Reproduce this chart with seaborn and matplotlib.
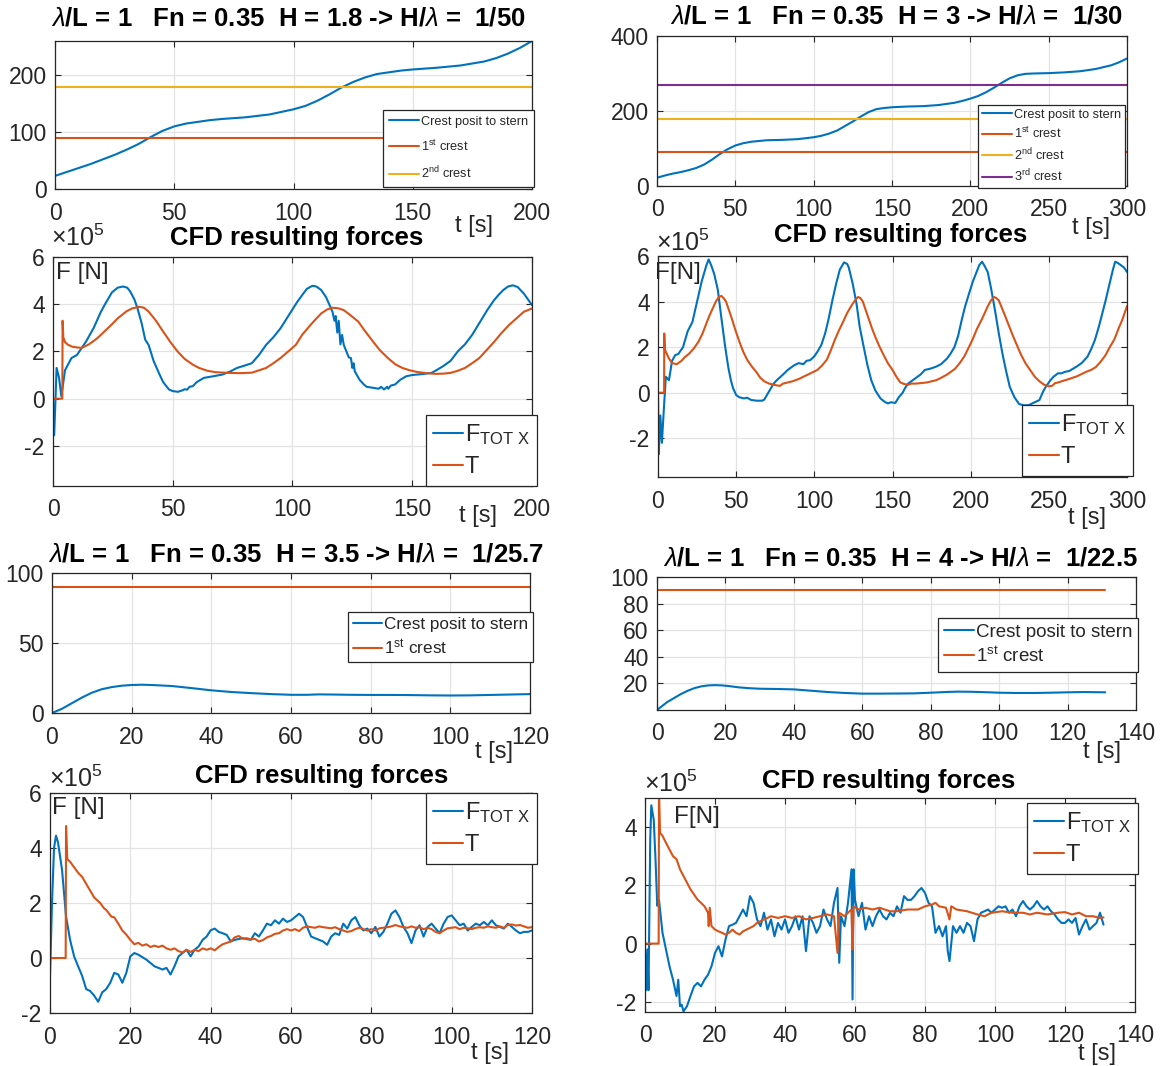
import matplotlib
matplotlib.use("Agg")
import matplotlib.pyplot as plt
import seaborn as sns

# ---------------------------------------------------------------------------
# Crest position relative to the stern [m] versus time [s]
# ---------------------------------------------------------------------------
t_crest_h18 = [0, 5, 10, 15, 20, 25, 30, 35, 40, 45, 50, 55, 60, 65, 70, 80,
               90, 100, 105, 110, 115, 120, 125, 130, 135, 140, 145, 150, 160,
               170, 180, 185, 190, 195, 200]
crest_h18 = [23, 30, 37, 44, 52, 60, 69, 79, 91, 102, 110, 115, 118, 121, 123,
             126, 131, 140, 146, 155, 166, 178, 188, 196, 202, 205, 208, 210,
             213, 217, 224, 230, 238, 248, 260]
crest_levels_h18 = [90, 180]

t_crest_h30 = [0, 5, 10, 15, 20, 25, 30, 35, 40, 45, 50, 55, 60, 70, 80, 90,
               100, 105, 110, 115, 120, 125, 130, 135, 140, 145, 150, 160, 170,
               180, 190, 195, 200, 205, 210, 215, 220, 225, 230, 235, 240, 250,
               260, 270, 280, 290, 295, 300]
crest_h30 = [22, 28, 33, 37, 42, 48, 57, 70, 85, 98, 108, 114, 118, 122, 123,
             125, 130, 134, 140, 148, 160, 172, 185, 197, 205, 208, 210, 212,
             213, 216, 222, 227, 233, 240, 250, 262, 275, 287, 295, 299, 300,
             301, 303, 306, 312, 322, 330, 340]
crest_levels_h30 = [90, 180, 270]

t_crest_h35 = [0, 2.5, 5, 7.5, 10, 12.5, 15, 17.5, 20, 22.5, 25, 30, 35, 40, 45,
               50, 55, 60, 64, 67, 70, 75, 80, 85, 90, 95, 100, 105, 110, 115,
               120]
crest_h35 = [0, 3, 7, 11, 14.5, 17, 18.5, 19.5, 20, 20.2, 20, 19.3, 17.8, 16.2,
             15, 14.2, 13.5, 13, 13, 13.3, 13.2, 13, 12.9, 12.9, 12.8, 12.6,
             12.5, 12.6, 12.9, 13.2, 13.5]
crest_levels_h35 = [90]

t_crest_h40 = [0, 3, 5, 7, 9, 11, 13, 15, 17, 19, 21, 24, 27, 30, 35, 40, 45,
               50, 55, 60, 65, 70, 75, 80, 85, 88, 92, 97, 100, 105, 110, 115,
               120, 125, 131]
crest_h40 = [0, 6, 9, 12, 14.5, 16.5, 17.8, 18.5, 18.7, 18.5, 18, 17, 16.4, 16,
             15.8, 15.5, 14.5, 13.5, 12.8, 12.3, 12.3, 12.4, 12.5, 13, 13.6,
             13.8, 13.7, 13.3, 13, 12.8, 12.8, 13, 13.3, 13.5, 13.3]
crest_levels_h40 = [90]

# ---------------------------------------------------------------------------
# CFD forces, (time [s], force [1e5 N]) pairs
# ---------------------------------------------------------------------------
ftot_h18 = [(0, 0), (0.5, -1.55), (1.5, 1.3), (2.5, 0.9), (3.5, 0.1), (5, 1.2),
            (7.7, 1.72), (10, 1.85), (13.8, 2.42), (17, 3.0), (20, 3.68),
            (22, 4.05), (24.6, 4.5), (27, 4.7), (29.2, 4.75), (31, 4.7),
            (32.3, 4.53), (34, 4.2), (35.3, 3.82), (37, 3.2), (38.5, 2.5),
            (39.9, 2.28), (42, 1.6), (44.5, 1.02), (46, 0.7), (48.4, 0.39),
            (50, 0.32), (52.2, 0.29), (54, 0.35), (55, 0.4), (56, 0.38),
            (57, 0.5), (58.4, 0.53), (60, 0.7), (63, 0.88), (67, 0.95),
            (70.7, 1.02), (74, 1.15), (76.8, 1.3), (80, 1.4), (83, 1.5),
            (86, 1.85), (89, 2.28), (92, 2.6), (95, 2.98), (97, 3.3),
            (99.8, 3.75), (102, 4.1), (104.5, 4.45), (106, 4.65), (108.3, 4.78),
            (110, 4.75), (112, 4.6), (114, 4.3), (116.7, 3.68), (117.5, 3.3),
            (118, 3.5), (118.7, 2.8), (119.3, 3.3), (120, 2.3), (120.7, 2.7),
            (121.4, 2.28), (122.5, 2.0), (123.5, 1.75), (124.4, 1.72),
            (125, 1.3), (125.5, 1.5), (126, 1.16), (128, 0.8), (129.8, 0.6),
            (131, 0.5), (133.6, 0.46), (136, 0.42), (137, 0.5), (138.2, 0.39),
            (139.5, 0.5), (140, 0.42), (141, 0.55), (142.8, 0.6), (145, 0.8),
            (147.5, 0.95), (150, 1.0), (152, 1.02), (155, 1.05), (158, 1.09),
            (160, 1.2), (162.8, 1.37), (166, 1.6), (169, 2.0), (172, 2.3),
            (175, 2.7), (178, 3.2), (181.3, 3.75), (184, 4.15), (185.9, 4.38),
            (188, 4.6), (190, 4.75), (192, 4.8), (194, 4.73), (196.6, 4.45),
            (198, 4.25), (200, 3.96)]
thrust_h18 = [(0, 0), (3.9, 0), (4, 3.3), (4.3, 2.6), (5, 2.4), (6, 2.3),
              (8, 2.2), (10, 2.17), (12, 2.15), (15, 2.3), (18.4, 2.55),
              (21, 2.8), (24.6, 3.15), (27, 3.4), (30.7, 3.7), (33, 3.82),
              (36, 3.89), (38, 3.85), (40, 3.68), (43, 3.3), (46, 2.84),
              (49, 2.4), (52, 2.0), (55, 1.68), (58.4, 1.44), (61, 1.3),
              (64.5, 1.18), (68, 1.12), (73.7, 1.09), (78, 1.08), (83, 1.1),
              (86, 1.2), (89, 1.3), (92, 1.5), (95, 1.72), (98, 1.98),
              (101.4, 2.28), (104, 2.7), (107.5, 3.12), (110, 3.4), (112, 3.61),
              (114.5, 3.78), (116.7, 3.85), (119, 3.83), (121.4, 3.75),
              (124, 3.55), (127.5, 3.26), (130, 2.9), (133.6, 2.42),
              (136.5, 2.05), (139.8, 1.72), (143, 1.45), (145.9, 1.3),
              (149, 1.2), (152, 1.13), (156, 1.08), (159.6, 1.05), (163, 1.06),
              (165.9, 1.09), (169, 1.18), (172, 1.3), (175, 1.5), (178, 1.72),
              (181, 2.05), (184.3, 2.42), (187, 2.75), (190.4, 3.12),
              (193.5, 3.4), (196.6, 3.68), (200, 3.82)]

ftot_h30 = [(0, -0.1), (0.5, -2.7), (1.5, -1.0), (2.5, -2.2), (3.5, -1.0),
            (5, 0.7), (7, 0.55), (9, 1.4), (11, 1.65), (13, 1.7), (16, 2.0),
            (19, 2.7), (22, 3.1), (25, 4.0), (28, 4.9), (31, 5.6), (32.4, 5.85),
            (34, 5.6), (36, 5.2), (38.3, 4.5), (40.5, 3.3), (43, 2.0),
            (45, 1.1), (46.6, 0.55), (48, 0.2), (50, -0.1), (52, -0.2),
            (55, -0.25), (57, -0.22), (59.6, -0.32), (63, -0.35),
            (66.7, -0.35), (68, -0.3), (71.4, 0.1), (74, 0.4), (76, 0.55),
            (80, 0.8), (83, 1.0), (87, 1.2), (90, 1.3), (93, 1.25), (95, 1.4),
            (97.4, 1.43), (100, 1.6), (102, 1.8), (104.5, 2.1), (106.9, 2.6),
            (109, 3.2), (111.6, 4.07), (114, 4.8), (116.3, 5.4), (119, 5.72),
            (121, 5.65), (122, 5.5), (124.5, 4.8), (127, 3.9), (129, 2.9),
            (131.6, 2.0), (134, 1.2), (136.4, 0.55), (139, 0.1),
            (142.3, -0.25), (145, -0.4), (147, -0.47), (149, -0.42),
            (151.8, -0.45), (154, -0.2), (156.5, 0.0), (158, 0.2), (160, 0.4),
            (163, 0.55), (166, 0.7), (168, 0.8), (170.7, 1.0), (174, 1.05),
            (177.8, 1.14), (181, 1.25), (184.9, 1.5), (187, 1.7), (189.6, 2.0),
            (192, 2.5), (194.3, 3.2), (196.5, 3.8), (199, 4.36), (201.5, 4.9),
            (203.8, 5.3), (205.5, 5.6), (207.3, 5.75), (209, 5.55),
            (210.9, 5.3), (213, 4.6), (215.6, 3.6), (218, 2.6), (220.3, 1.72),
            (222.5, 1.0), (225, 0.26), (228, -0.2), (231, -0.5), (234, -0.55),
            (237, -0.55), (240, -0.45), (244, -0.32), (246, 0.0), (247.5, 0.2),
            (249, 0.35), (251, 0.55), (253, 0.7), (255.8, 0.85), (258, 0.85),
            (260.5, 0.92), (263, 0.95), (267.6, 1.14), (271, 1.3),
            (274.7, 1.58), (277, 1.9), (279.4, 2.3), (282, 2.9), (284.2, 3.48),
            (286.5, 4.1), (288.9, 4.8), (291, 5.4), (292.4, 5.75), (294, 5.7),
            (296, 5.6), (298, 5.5), (300, 5.3)]
thrust_h30 = [(0, 0), (3.9, 0), (4, 2.6), (4.4, 1.9), (5, 1.8), (7, 1.5),
              (9, 1.3), (12, 1.25), (15, 1.4), (17, 1.55), (20, 1.72),
              (23, 1.95), (26, 2.25), (28.5, 2.6), (31, 3.05), (33, 3.4),
              (35, 3.7), (37, 4.0), (39, 4.2), (40.5, 4.25), (42, 4.15),
              (43.5, 4.0), (45, 3.7), (47, 3.3), (49.5, 2.75), (52, 2.25),
              (54.5, 1.8), (57, 1.45), (60, 1.15), (63, 0.9), (65.5, 0.65),
              (68, 0.5), (71, 0.4), (74, 0.35), (76, 0.32), (78, 0.3),
              (80, 0.4), (83, 0.45), (86, 0.5), (90, 0.6), (93, 0.7), (96, 0.8),
              (99, 0.9), (102, 1.0), (105, 1.2), (108, 1.45), (110.5, 1.85),
              (113, 2.3), (115.5, 2.7), (118, 3.05), (121, 3.5), (124, 3.85),
              (126.5, 4.1), (128, 4.2), (129.5, 4.15), (131, 4.0), (133, 3.6),
              (135, 3.2), (137, 2.8), (139, 2.45), (141.5, 2.05), (144, 1.7),
              (147, 1.3), (150, 1.0), (152.5, 0.7), (155, 0.45), (157.5, 0.38),
              (160, 0.35), (162, 0.4), (165, 0.4), (168, 0.42), (172, 0.45),
              (175, 0.5), (178, 0.55), (181, 0.65), (185, 0.8), (188, 0.95),
              (190, 1.05), (193, 1.3), (196, 1.6), (198.5, 1.95), (201, 2.3),
              (204, 2.8), (207, 3.2), (209, 3.5), (211, 3.8), (213, 4.05),
              (215, 4.2), (216.5, 4.15), (218, 4.05), (219.5, 3.8),
              (221, 3.55), (223, 3.2), (225, 2.85), (227, 2.5), (229.5, 2.1),
              (232, 1.7), (235, 1.3), (238, 1.0), (241, 0.7), (244, 0.5),
              (247, 0.35), (250, 0.28), (252, 0.3), (254, 0.42), (256, 0.45),
              (259, 0.52), (262, 0.58), (265, 0.65), (268, 0.72), (271, 0.82),
              (274, 0.92), (277, 1.0), (280, 1.12), (283, 1.35), (286, 1.62),
              (289, 2.0), (292, 2.35), (294.5, 2.8), (297, 3.2), (300, 3.8)]

ftot_h35 = [(0, -0.65), (0.5, 2.0), (1, 4.0), (1.5, 4.45), (2, 4.2), (3, 3.2),
            (4, 1.5), (5, 0.66), (6, 0.06), (7, -0.3), (8, -0.65), (9, -1.13),
            (10, -1.2), (11, -1.37), (12, -1.59), (13, -1.25), (14, -1.13),
            (15, -0.9), (16, -0.54), (17, -0.6), (18, -0.9), (19, -0.54),
            (20, 0.06), (21, 0.18), (22, 0.12), (24, -0.06), (26, -0.3),
            (28, -0.42), (29, -0.36), (30, -0.6), (31, -0.3), (32, 0.06),
            (33, 0.18), (34, 0.3), (35, 0.06), (36, 0.3), (37, 0.42),
            (38, 0.66), (39, 0.78), (40, 1.01), (41, 1.07), (42, 0.95),
            (43, 0.9), (44, 0.84), (45, 0.6), (46, 0.66), (48, 0.72),
            (50, 0.66), (51, 0.9), (52, 0.78), (53, 1.0), (54, 1.25),
            (55, 1.19), (56, 1.37), (57, 1.25), (58, 1.43), (59, 1.31),
            (60, 1.37), (61, 1.49), (62, 1.61), (63, 1.49), (64, 1.13),
            (65, 0.78), (66, 0.72), (67, 0.66), (68, 0.6), (69, 0.48),
            (70, 0.78), (71, 0.9), (72, 0.84), (73, 1.25), (74, 1.07),
            (75, 1.37), (76, 1.49), (77, 1.19), (78, 1.0), (79, 1.07),
            (80, 0.9), (81, 1.13), (82, 0.78), (83, 0.95), (84, 1.25),
            (85, 1.61), (86, 1.73), (87, 1.49), (88, 1.13), (89, 0.9),
            (90, 0.54), (91, 1.0), (92, 1.19), (93, 0.78), (94, 1.13),
            (95, 1.25), (96, 1.07), (97, 0.9), (98, 1.25), (99, 1.49),
            (100, 1.55), (101, 1.37), (102, 1.19), (103, 1.25), (104, 1.0),
            (105, 1.13), (106, 1.25), (107, 1.19), (108, 1.31), (109, 1.19),
            (110, 1.37), (111, 1.19), (112, 1.13), (113, 1.07), (114, 1.25),
            (115, 1.13), (116, 1.0), (117, 0.9), (118, 0.95), (119, 0.95),
            (120, 1.0)]
thrust_h35 = [(0, 0), (3.9, 0), (4, 4.8), (4.3, 3.6), (5, 3.5), (6, 3.3),
              (7, 3.1), (8, 2.95), (9, 2.7), (10, 2.45), (11, 2.2),
              (12.5, 2.0), (13.5, 1.8), (14, 1.75), (15.3, 1.5), (16, 1.48),
              (17, 1.25), (18, 1.0), (19, 0.85), (20, 0.66), (21, 0.5),
              (22, 0.55), (23, 0.45), (24, 0.5), (25, 0.4), (26, 0.45),
              (27, 0.4), (28, 0.45), (29, 0.35), (30, 0.3), (31, 0.35),
              (32, 0.25), (33, 0.2), (34, 0.3), (35, 0.22), (36, 0.3),
              (37, 0.25), (38, 0.35), (39, 0.3), (40, 0.35), (41, 0.28),
              (42, 0.4), (43, 0.5), (44, 0.55), (45, 0.6), (46, 0.75),
              (47, 0.8), (48, 0.7), (49, 0.72), (50, 0.68), (51, 0.7),
              (52, 0.6), (53, 0.65), (54, 0.75), (55, 0.8), (56, 0.88),
              (57, 0.9), (58, 1.0), (59, 1.05), (60, 1.0), (61, 1.05),
              (62, 0.98), (63, 1.1), (64, 1.15), (65, 1.12), (66, 1.1),
              (67, 1.15), (68, 1.12), (69, 1.1), (70, 1.08), (71, 1.12),
              (72, 1.05), (73, 1.0), (74, 0.95), (75, 0.98), (76, 1.05),
              (77, 1.1), (78, 1.05), (79, 1.0), (80, 1.05), (81, 1.0),
              (82, 1.08), (83, 1.1), (84, 1.12), (85, 1.15), (86, 1.2),
              (87, 1.15), (88, 1.12), (89, 1.1), (90, 1.15), (91, 1.1),
              (92, 1.12), (93, 1.05), (94, 1.1), (95, 1.05), (96, 0.95),
              (97, 0.9), (98, 1.0), (99, 1.08), (100, 1.1), (101, 1.12),
              (102, 1.05), (103, 1.1), (104, 1.08), (105, 1.05), (106, 1.1),
              (107, 1.12), (108, 1.1), (109, 1.15), (110, 1.12), (111, 1.1),
              (112, 1.15), (113, 1.1), (114, 1.2), (115, 1.22), (116, 1.18),
              (117, 1.2), (118, 1.15), (119, 1.1), (120, 1.12)]

ftot_h40 = [(0, -0.1), (0.3, -1.6), (0.7, -0.2), (1, -1.6), (1.5, 3.6),
            (1.8, 4.75), (2.5, 4.25), (3, 2.9), (3.5, 1.3), (4, 1.5),
            (5, 0.37), (6, -0.2), (7, -0.78), (8, -1.24), (9, -1.8),
            (9.5, -1.24), (10, -2.15), (10.5, -2.1), (11, -2.33), (12, -2.15),
            (13, -1.8), (14, -1.47), (15, -1.35), (16, -1.47), (17, -1.24),
            (18, -1.07), (19, -0.78), (20, -0.32), (21, -0.09), (22, -0.44),
            (23, 0.14), (24, 0.6), (25, 0.65), (26, 0.71), (27, 0.94),
            (28, 1.17), (29, 0.94), (30, 1.63), (31, 1.4), (32, 0.83),
            (33, 0.6), (34, 1.06), (35, 0.48), (36, 0.83), (37, 0.25),
            (38, 0.71), (39, 0.48), (40, 0.83), (41, 0.37), (42, 0.6),
            (43, 0.94), (44, 0.48), (45, 0.94), (46, -0.26), (47, 0.94),
            (48, 0.71), (49, 0.37), (50, 0.6), (51, 1.17), (52, 0.83),
            (53, 0.6), (54, 1.4), (55, 1.91), (55.5, -0.66), (56, 0.94),
            (57, 0.6), (58, 1.4), (59, 2.55), (59.3, -1.92), (59.6, 2.55),
            (60, 1.5), (61, 0.94), (62, 1.4), (63, 0.48), (64, 0.94),
            (65, 0.6), (66, 0.94), (67, 1.17), (68, 0.94), (69, 0.83),
            (70, 1.06), (71, 0.94), (72, 1.28), (73, 1.06), (74, 1.63),
            (75, 1.5), (76, 1.5), (77, 1.63), (78, 1.8), (79, 1.91),
            (80, 1.74), (81, 1.4), (82, 1.28), (83, 0.37), (84, 0.6),
            (85, 0.25), (86, 0.6), (86.5, -0.26), (87, -0.6), (88, 0.6),
            (89, 0.37), (90, 0.6), (91, 0.37), (92, 0.71), (93, 0.6),
            (94, 0.08), (95, 0.83), (96, 1.06), (97, 1.11), (98, 1.17),
            (99, 1.06), (100, 1.17), (101, 1.28), (102, 1.23), (103, 1.28),
            (104, 1.06), (105, 1.17), (106, 0.94), (107, 1.28), (108, 1.46),
            (109, 1.28), (110, 1.17), (111, 1.28), (112, 1.46), (113, 1.28),
            (114, 1.17), (115, 1.28), (116, 1.11), (117, 1.0), (118, 0.83),
            (119, 0.71), (120, 0.71), (121, 0.83), (122, 0.71), (123, 0.88),
            (124, 0.31), (125, 0.6), (126, 0.83), (127, 0.48), (128, 0.6),
            (129, 0.71), (130, 1.06), (131, 0.65)]
thrust_h40 = [(0, 0), (3.9, 0), (4, 5.3), (4.3, 3.8), (5, 3.7), (6, 3.46),
              (7, 3.23), (8, 3.0), (9, 2.9), (10, 2.55), (11, 2.32),
              (12, 2.09), (13, 1.86), (14, 1.69), (15, 1.51), (16, 1.4),
              (17, 1.28), (18, 1.06), (18.2, 0.6), (18.5, 1.23), (19, 0.6),
              (20, 0.48), (21, 0.42), (22, 0.37), (23, 0.31), (24, 0.37),
              (25, 0.48), (26, 0.37), (27, 0.31), (28, 0.42), (29, 0.48),
              (30, 0.54), (31, 0.6), (32, 0.71), (33, 0.77), (34, 0.83),
              (35, 0.88), (36, 0.94), (38, 0.88), (40, 0.94), (42, 0.88),
              (44, 0.94), (46, 0.83), (48, 0.88), (50, 0.94), (52, 1.0),
              (54, 0.94), (55, -0.32), (55.5, 1.06), (57, 0.94), (58, 1.06),
              (59, 1.17), (59.3, -0.2), (59.6, 1.28), (61, 1.17), (63, 1.23),
              (65, 1.17), (67, 1.23), (70, 1.11), (72, 1.11), (75, 1.17),
              (78, 1.17), (80, 1.28), (82, 1.34), (83, 1.4), (84, 1.28),
              (86, 1.23), (87, 0.83), (87.5, 1.28), (89, 1.17), (92, 1.11),
              (95, 1.0), (97, 0.94), (99, 1.06), (102, 1.11), (105, 1.06),
              (108, 1.06), (110, 1.0), (112, 1.06), (115, 1.0), (118, 1.06),
              (120, 1.08), (122, 1.0), (124, 1.06), (126, 0.94), (128, 0.94),
              (130, 0.88), (131, 0.9)]

titles = [r"$\lambda$/L = 1   Fn = 0.35  H = 1.8 -> H/$\lambda$ =  1/50",
          r"$\lambda$/L = 1   Fn = 0.35  H = 3 -> H/$\lambda$ =  1/30",
          r"$\lambda$/L = 1   Fn = 0.35  H = 3.5 -> H/$\lambda$ =  1/25.7",
          r"$\lambda$/L = 1   Fn = 0.35  H = 4 -> H/$\lambda$ =  1/22.5"]
crest_labels = ["Crest posit to stern", r"1$^{\rm st}$ crest",
                r"2$^{\rm nd}$ crest", r"3$^{\rm rd}$ crest"]
force_labels = [r"F$_{\rm TOT\ X}$", "T"]

# ---------------------------------------------------------------------------
# Style
# ---------------------------------------------------------------------------
sns.set_style("ticks")
FONT = "Liberation Sans"
plt.rcParams.update({
    "font.family": [FONT, "DejaVu Sans"],
    "mathtext.fontset": "custom",
    "mathtext.rm": FONT,
    "mathtext.it": FONT + ":italic",
    "mathtext.bf": FONT + ":bold",
    "axes.unicode_minus": False,
    "text.color": "#262626",
})

BLUE, ORANGE, YELLOW, PURPLE = "#0072BD", "#D95319", "#EDB120", "#7E2F8E"
INK = "#262626"
LW = 1.5
W, H = 1163, 1066

fig = plt.figure(figsize=(W / 100, H / 100), dpi=100)


def add_ax(l, r, t, b):
    return fig.add_axes([l / W, 1 - b / H, (r - l) / W, (b - t) / H])


def ftext(x, y, s, **kw):
    fig.text(x / W, 1 - y / H, s, **kw)


def style_ax(ax, xlim, ylim, xticks, yticks):
    ax.set_xlim(*xlim)
    ax.set_ylim(*ylim)
    ax.set_xticks(xticks)
    ax.set_yticks(yticks)
    ax.grid(True, color="#e3e3e3", lw=0.9)
    ax.set_axisbelow(True)
    ax.tick_params(direction="in", length=4.5, width=0.8, top=True,
                   right=True, labelsize=16.5, colors=INK)
    ax.tick_params(axis="x", pad=9)
    ax.tick_params(axis="y", pad=6)
    for sp in ax.spines.values():
        sp.set_color(INK)
        sp.set_linewidth(0.9)
    ax.set_xlabel("")
    ax.set_ylabel("")


def line(ax, x, y, color):
    sns.lineplot(x=x, y=y, ax=ax, color=color, lw=LW, estimator=None,
                 sort=False, legend=False)
    return ax.lines[-1]


def legend(ax, handles, labels, anchor, size, hlen, spacing, pad=0.3):
    leg = ax.legend(handles, labels, loc="upper left",
                    bbox_to_anchor=(anchor[0] / W, 1 - anchor[1] / H),
                    bbox_transform=fig.transFigure, borderaxespad=0,
                    fontsize=size, handlelength=hlen, handletextpad=0.1,
                    labelspacing=spacing, borderpad=pad, fancybox=False,
                    framealpha=1, edgecolor=INK)
    leg.get_frame().set_linewidth(0.9)
    for txt in leg.get_texts():
        txt.set_color(INK)
    return leg


def crest_panel(rect, t, crest, levels, tmax, xlim, ylim, xticks, yticks,
                anchor, size, hlen, spacing, pad):
    ax = add_ax(*rect)
    handles = [line(ax, t, crest, BLUE)]
    for lev, col in zip(levels, [ORANGE, YELLOW, PURPLE]):
        handles.append(line(ax, [0, tmax], [lev, lev], col))
    style_ax(ax, xlim, ylim, xticks, yticks)
    legend(ax, handles, crest_labels[:len(handles)], anchor, size, hlen,
           spacing, pad)
    return ax


def force_panel(rect, ftot, thrust, xlim, ylim, xticks, yticks, anchor):
    ax = add_ax(*rect)
    h1 = line(ax, [p[0] for p in ftot], [p[1] for p in ftot], BLUE)
    h2 = line(ax, [p[0] for p in thrust], [p[1] for p in thrust], ORANGE)
    style_ax(ax, xlim, ylim, xticks, yticks)
    legend(ax, [h1, h2], force_labels, anchor, 17, 1.25, 0.4, pad=0.3)
    return ax


# --- H = 1.8 m -------------------------------------------------------------
crest_panel((55, 532, 41, 189), t_crest_h18, crest_h18, crest_levels_h18, 200,
            (0, 200), (0, 260), [0, 50, 100, 150, 200], [0, 100, 200],
            (383, 110), 9.2, 2.4, 0.85, 0.45)
force_panel((53, 532, 257, 486), ftot_h18, thrust_h18, (0, 200), (-3.7, 6),
            [0, 50, 100, 150, 200], [-2, 0, 2, 4, 6], (426, 415))

# --- H = 3 m ---------------------------------------------------------------
crest_panel((657, 1127, 36, 186), t_crest_h30, crest_h30, crest_levels_h30,
            300, (0, 300), (0, 400), [0, 50, 100, 150, 200, 250, 300],
            [0, 200, 400], (978, 105), 9.2, 2.4, 0.4, 0.3)
force_panel((658, 1127, 256, 477), ftot_h30, thrust_h30, (0, 300), (-3.7, 6),
            [0, 50, 100, 150, 200, 250, 300], [-2, 0, 2, 4, 6], (1022, 405))

# --- H = 3.5 m -------------------------------------------------------------
crest_panel((52, 530, 573, 713), t_crest_h35, crest_h35, crest_levels_h35,
            120, (0, 120), (0, 100), [0, 20, 40, 60, 80, 100, 120],
            [0, 50, 100], (348, 612), 12.3, 1.7, 0.3, 0.3)
force_panel((50, 532, 793, 1013), ftot_h35, thrust_h35, (0, 120), (-2, 6),
            [0, 20, 40, 60, 80, 100, 120], [-2, 0, 2, 4, 6], (426, 793))

# --- H = 4 m ---------------------------------------------------------------
crest_panel((657, 1136, 577, 710), t_crest_h40, crest_h40, crest_levels_h40,
            131, (0, 140), (0, 100), [0, 20, 40, 60, 80, 100, 120, 140],
            [20, 40, 60, 80, 100], (938, 618), 13.5, 1.6, 0.3, 0.3)
force_panel((645, 1135, 798, 1012), ftot_h40, thrust_h40, (0, 140),
            (-2.35, 5), [0, 20, 40, 60, 80, 100, 120, 140], [-2, 0, 2, 4],
            (1027, 803))

# --- titles and annotations ------------------------------------------------
TKW = dict(ha="center", va="center", fontsize=18.5, fontweight="bold",
           color="black")
ftext(288, 18, titles[0], **TKW)
ftext(897, 17, titles[1], **TKW)
ftext(296, 554, titles[2], **TKW)
ftext(901, 558, titles[3], **TKW)
for x, y in [(297, 238), (901, 235), (322, 776), (889, 781)]:
    ftext(x, y, "CFD resulting forces", **TKW)

LKW = dict(ha="center", va="center", fontsize=17, color=INK)
for x, y in [(474, 226), (1091, 228), (478, 516), (1087, 518), (494, 752),
             (1102, 752), (490, 1053), (1097, 1054)]:
    ftext(x, y, "t [s]", **LKW)

EKW = dict(ha="left", va="center", fontsize=18, color=INK)
for x, y in [(51, 238), (656, 243), (49, 779), (644, 784)]:
    ftext(x, y, r"$\times10^{5}$", **EKW)

FKW = dict(ha="left", va="center", fontsize=17.5, color=INK)
ftext(56, 273, "F [N]", **FKW)
ftext(655, 273, "F[N]", **FKW)
ftext(52, 808, "F [N]", **FKW)
ftext(674, 817, "F[N]", **FKW)

fig.savefig("out.png", dpi=100)
